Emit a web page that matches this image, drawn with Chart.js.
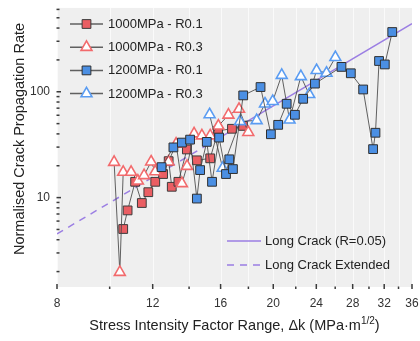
<!DOCTYPE html>
<html>
<head>
<meta charset="utf-8">
<script src="https://cdn.jsdelivr.net/npm/chart.js@4"></script>
<style>
  html, body { margin: 0; padding: 0; background: #fff; overflow: hidden; }
  #wrap { width: 420px; height: 341px; }
</style>
</head>
<body>
<div id="wrap"><canvas id="crack-chart" width="420" height="341"></canvas></div>
<script>
// values (dk in MPa.m^1/2, normalised rate)
const dk1000R01 = [10.59, 10.79, 11.14, 11.46, 11.78, 12.13, 12.54, 12.84, 13.01, 13.38, 13.87, 14.47, 15.31, 15.83, 16.79, 17.59];
const rate1000R01 = [5.05, 7.57, 14.1, 8.89, 11.25, 14.1, 16.7, 22.1, 12.65, 14.1, 28.5, 22.5, 23.5, 42.8, 44.7, 47.6];

const dk1000R03 = [10.19, 10.44, 10.59, 10.95, 11.27, 11.57, 11.92, 12.13, 12.83, 13.25, 13.58, 13.88, 14.30, 14.78, 15.31, 15.85, 16.54, 17.30, 17.99];
const rate1000R03 = [21.6, 1.97, 17.4, 17.4, 14.4, 16.2, 21.8, 17.6, 21.8, 32.1, 13.6, 19.8, 40.1, 38.4, 38.4, 47.6, 60.3, 68.5, 41.4];

const dk1200R01 = [12.46, 13.10, 13.58, 14.06, 14.47, 14.67, 15.09, 15.43, 15.90, 16.37, 16.60, 16.86, 17.61, 18.95, 19.80, 20.42, 21.17, 21.92, 22.70, 23.86, 26.70, 27.78, 29.27, 30.53, 30.84, 31.31, 32.08, 33.11];
const rate1200R01 = [19.4, 29.8, 33.1, 35.3, 9.79, 18.2, 33.6, 14.1, 36.9, 16.7, 23.0, 18.6, 92.4, 110.8, 39.7, 48.7, 77.0, 60.6, 85.8, 119.4, 171.8, 149.5, 105.1, 28.7, 41.0, 195.3, 181.2, 366.8];

const dk1200R03 = [15.27, 16.14, 17.37, 18.64, 19.31, 19.95, 20.73, 21.43, 22.48, 23.29, 24.03, 25.06, 26.02];
const rate1200R03 = [60.9, 19.0, 52.4, 53.6, 77.0, 81.3, 143.2, 54.2, 139.6, 94.4, 159.4, 150.2, 211.3];

const longCrackDk = [16, 36];
const longCrackRate = [37.3, 440];
const extendedDk = [8, 16];
const extendedRate = [4.54, 37.3];

const xTicks = [8, 10, 12, 14, 16, 18, 20, 22, 24, 26, 28, 30, 32, 34, 36];
const xLabels = [8, 12, 16, 20, 24, 28, 32, 36];
const yTicks = [2, 3, 4, 5, 6, 7, 8, 9, 10, 20, 30, 40, 50, 60, 70, 80, 90, 100, 200, 300, 400, 500, 600];
const yLabels = [10, 100];

const FONT = '"Liberation Sans", Arial, sans-serif';
const PURPLE = '#9b7ee3';
const LINK = 'rgba(70,70,70,0.85)';

function toPoints(xs, ys) {
    return xs.map((x, i) => ({ x: x, y: ys[i] }));
}

function markerSeries(label, xs, ys, style, fill, stroke, bw, order) {
    return {
        label: label,
        data: toPoints(xs, ys),
        borderColor: LINK,
        borderWidth: 1,
        pointStyle: style,
        pointRadius: style === 'rect' ? 6.2 : 6.3,
        pointBackgroundColor: fill,
        pointBorderColor: stroke,
        pointBorderWidth: bw,
        order: order
    };
}

const datasets = [
    markerSeries('1000MPa - R0.1', dk1000R01, rate1000R01, 'rect', '#ea5e63', '#3c3c3c', 1, 4),
    markerSeries('1000MPa - R0.3', dk1000R03, rate1000R03, 'triangle', '#ffffff', '#f26a6c', 1.6, 3),
    markerSeries('1200MPa - R0.1', dk1200R01, rate1200R01, 'rect', '#4b8fe3', '#2f2f2f', 1, 1),
    markerSeries('1200MPa - R0.3', dk1200R03, rate1200R03, 'triangle', '#ffffff', '#5a9cf2', 1.6, 2),
    {
        label: 'Long Crack (R=0.05)',
        data: toPoints(longCrackDk, longCrackRate),
        borderColor: PURPLE,
        borderWidth: 1.5,
        pointRadius: 0,
        order: 10
    },
    {
        label: 'Long Crack Extended',
        data: toPoints(extendedDk, extendedRate),
        borderColor: PURPLE,
        borderWidth: 1.5,
        borderDash: [7, 6],
        pointRadius: 0,
        order: 10
    }
];

// grey panel, tick marks, titles and the two legends
const decorations = {
    id: 'decorations',
    beforeDraw(chart) {
        const { ctx, chartArea: a, scales } = chart;
        ctx.save();
        ctx.fillStyle = '#efefef';
        ctx.fillRect(a.left, a.top, a.right - a.left, a.bottom - a.top);
        ctx.strokeStyle = 'rgba(255,255,255,0.7)';
        ctx.lineWidth = 1;
        xTicks.forEach(v => {
            const px = Math.round(scales.x.getPixelForValue(v)) + 0.5;
            ctx.beginPath(); ctx.moveTo(px, a.top); ctx.lineTo(px, a.bottom); ctx.stroke();
        });
        ctx.restore();
    },
    afterDraw(chart) {
        const { ctx, chartArea: a, scales } = chart;
        ctx.save();
        ctx.strokeStyle = '#3a3a3a';
        ctx.lineWidth = 1.5;
        xTicks.forEach(v => {
            const px = scales.x.getPixelForValue(v);
            const major = xLabels.includes(v);
            ctx.beginPath();
            ctx.moveTo(px, major ? a.bottom - 3 : a.bottom - 0.5);
            ctx.lineTo(px, a.bottom + 2);
            ctx.stroke();
        });
        yTicks.forEach(v => {
            const py = scales.y.getPixelForValue(v);
            const major = yLabels.includes(v);
            ctx.beginPath();
            ctx.moveTo(a.left - 0.5, py);
            ctx.lineTo(a.left + (major ? 4 : 2.5), py);
            ctx.stroke();
        });

        // axis titles
        ctx.fillStyle = '#222';
        ctx.textBaseline = 'middle';
        ctx.textAlign = 'center';
        ctx.font = '14.5px ' + FONT;
        ctx.save();
        ctx.translate(20, 139);
        ctx.rotate(-Math.PI / 2);
        ctx.fillText('Normalised Crack Propagation Rate', 0, 0);
        ctx.restore();

        const main = 'Stress Intensity Factor Range, \u0394k (MPa\u00b7m';
        const sup = '1/2';
        const tail = ')';
        ctx.font = '14.5px ' + FONT;
        const wMain = ctx.measureText(main).width;
        const wTail = ctx.measureText(tail).width;
        ctx.font = '10px ' + FONT;
        const wSup = ctx.measureText(sup).width;
        const x0 = (a.left + a.right) / 2 - (wMain + wSup + wTail) / 2;
        const ty = 326;
        ctx.textAlign = 'left';
        ctx.font = '14.5px ' + FONT;
        ctx.fillText(main, x0, ty);
        ctx.font = '10px ' + FONT;
        ctx.fillText(sup, x0 + wMain, ty - 5);
        ctx.font = '14.5px ' + FONT;
        ctx.fillText(tail, x0 + wMain + wSup, ty);

        // top-left legend (marker series)
        ctx.font = '13px ' + FONT;
        datasets.slice(0, 4).forEach((ds, i) => {
            const y = 24 + i * 23.2;
            ctx.strokeStyle = LINK;
            ctx.lineWidth = 1.5;
            ctx.setLineDash([]);
            ctx.beginPath(); ctx.moveTo(70, y); ctx.lineTo(103, y); ctx.stroke();
            ctx.fillStyle = ds.pointBackgroundColor;
            ctx.strokeStyle = ds.pointBorderColor;
            ctx.lineWidth = ds.pointBorderWidth;
            Chart.helpers.drawPoint(ctx, {
                pointStyle: ds.pointStyle, radius: ds.pointRadius, rotation: 0, borderWidth: ds.pointBorderWidth
            }, 86.5, y);
            ctx.fillStyle = '#222';
            ctx.fillText(ds.label, 108, y + 0.5);
        });

        // bottom-right legend (long crack lines)
        datasets.slice(4).forEach((ds, i) => {
            const y = 241 + i * 24;
            ctx.strokeStyle = PURPLE;
            ctx.lineWidth = 1.5;
            ctx.setLineDash(ds.borderDash || []);
            ctx.beginPath(); ctx.moveTo(227, y); ctx.lineTo(261, y); ctx.stroke();
            ctx.setLineDash([]);
            ctx.fillStyle = '#222';
            ctx.fillText(ds.label, 265, y + 0.5);
        });
        ctx.restore();
    }
};

const ctx = document.getElementById('crack-chart').getContext('2d');
Chart.defaults.font.family = FONT;

const crackChart = new Chart(ctx, {
    type: 'line',
    data: { datasets: datasets },
    options: {
        responsive: false,
        animation: false,
        devicePixelRatio: 1,
        layout: { padding: { top: 3, right: 8, left: 0, bottom: 0 } },
        plugins: {
            legend: { display: false },
            tooltip: { enabled: false }
        },
        scales: {
            x: {
                type: 'logarithmic',
                min: 8,
                max: 36,
                grid: { display: false, drawTicks: false },
                border: { display: false },
                afterBuildTicks: scale => { scale.ticks = xTicks.map(v => ({ value: v })); },
                afterFit: scale => {
                    scale.height = 54;
                    scale.paddingLeft = 0;
                    scale.paddingRight = 0;
                },
                ticks: {
                    autoSkip: false,
                    maxRotation: 0,
                    padding: 9,
                    color: '#333',
                    font: { size: 12 },
                    callback: v => xLabels.includes(v) ? String(v) : ''
                }
            },
            y: {
                type: 'logarithmic',
                min: 1.43,
                max: 620,
                grid: { display: false, drawTicks: false },
                border: { display: false },
                afterBuildTicks: scale => { scale.ticks = yLabels.map(v => ({ value: v })); },
                afterFit: scale => {
                    scale.width = 57;
                    scale.paddingTop = 0;
                    scale.paddingBottom = 0;
                },
                ticks: {
                    autoSkip: false,
                    padding: 7,
                    color: '#333',
                    font: { size: 12 },
                    callback: v => String(v)
                }
            }
        }
    },
    plugins: [decorations]
});
</script>
</body>
</html>
